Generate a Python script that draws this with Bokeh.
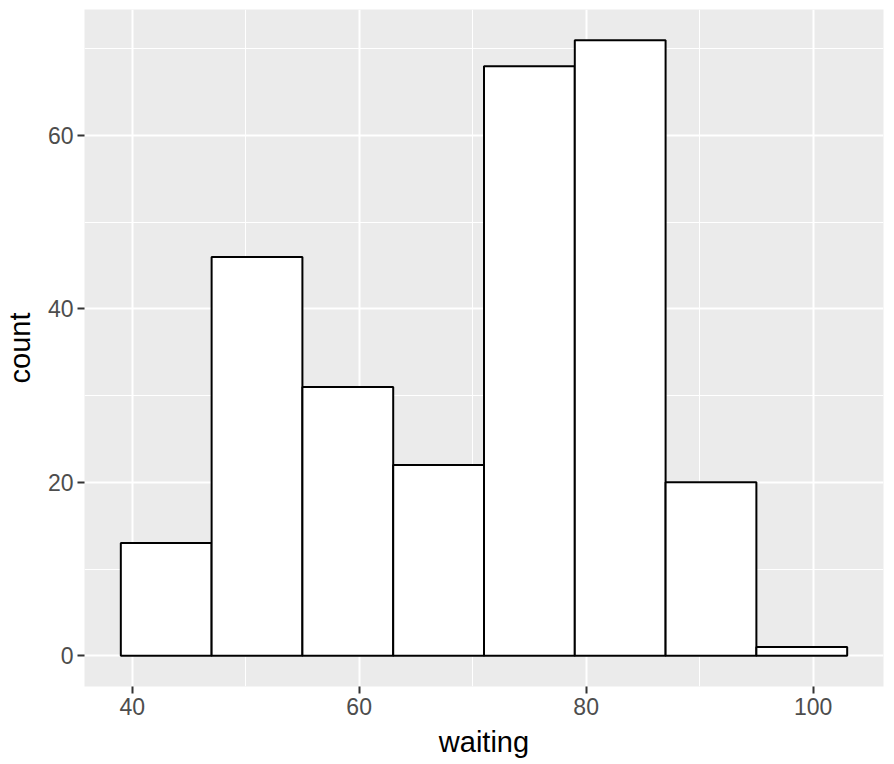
from bokeh.plotting import figure
from bokeh.models import Range1d, FixedTicker, ColumnDataSource
from bokeh.embed import file_html
from bokeh.resources import INLINE

# Histogram of waiting (binwidth 8)
bin_left = [39, 47, 55, 63, 71, 79, 87, 95]
bin_right = [47, 55, 63, 71, 79, 87, 95, 103]
counts = [13, 46, 31, 22, 68, 71, 20, 1]

x_ticks = [40, 60, 80, 100]
x_minor = [50, 70, 90]
y_ticks = [0, 20, 40, 60]
y_minor = [10, 30, 50, 70]

src = ColumnDataSource(dict(left=bin_left, right=bin_right, top=counts,
                            bottom=[0] * len(counts)))

p = figure(width=894, height=764, output_backend="svg", toolbar_location=None,
           x_range=Range1d(35.8, 106.2), y_range=Range1d(-3.55, 74.55),
           min_border_left=83, min_border_right=11, min_border_top=9,
           min_border_bottom=78)

p.background_fill_color = "#EBEBEB"
p.border_fill_color = "white"
p.outline_line_color = None

p.quad(left="left", right="right", top="top", bottom="bottom", source=src,
       fill_color="white", line_color="black", line_width=2)

p.xaxis.ticker = FixedTicker(ticks=x_ticks, minor_ticks=x_minor)
p.yaxis.ticker = FixedTicker(ticks=y_ticks, minor_ticks=y_minor)

for g in (p.xgrid, p.ygrid):
    g.grid_line_color = "white"
    g.grid_line_width = 2
    g.minor_grid_line_color = "white"
    g.minor_grid_line_width = 1

for ax in (p.xaxis, p.yaxis):
    ax.axis_line_color = None
    ax.major_tick_line_color = "#333333"
    ax.major_tick_line_width = 2
    ax.major_tick_out = 7
    ax.major_tick_in = 0
    ax.minor_tick_line_color = None
    ax.major_label_text_color = "#4D4D4D"
    ax.major_label_text_font = "Liberation Sans"
    ax.major_label_text_font_size = "23px"
    ax.axis_label_text_font = "Liberation Sans"
    ax.axis_label_text_font_size = "29px"
    ax.axis_label_text_font_style = "normal"
    ax.axis_label_text_color = "black"
    ax.major_label_standoff = 4

p.xaxis.axis_label_standoff = 8
p.yaxis.axis_label_standoff = 9

p.xaxis.axis_label = "waiting"
p.yaxis.axis_label = "count"

open("out.html", "w").write(file_html(p, INLINE))
